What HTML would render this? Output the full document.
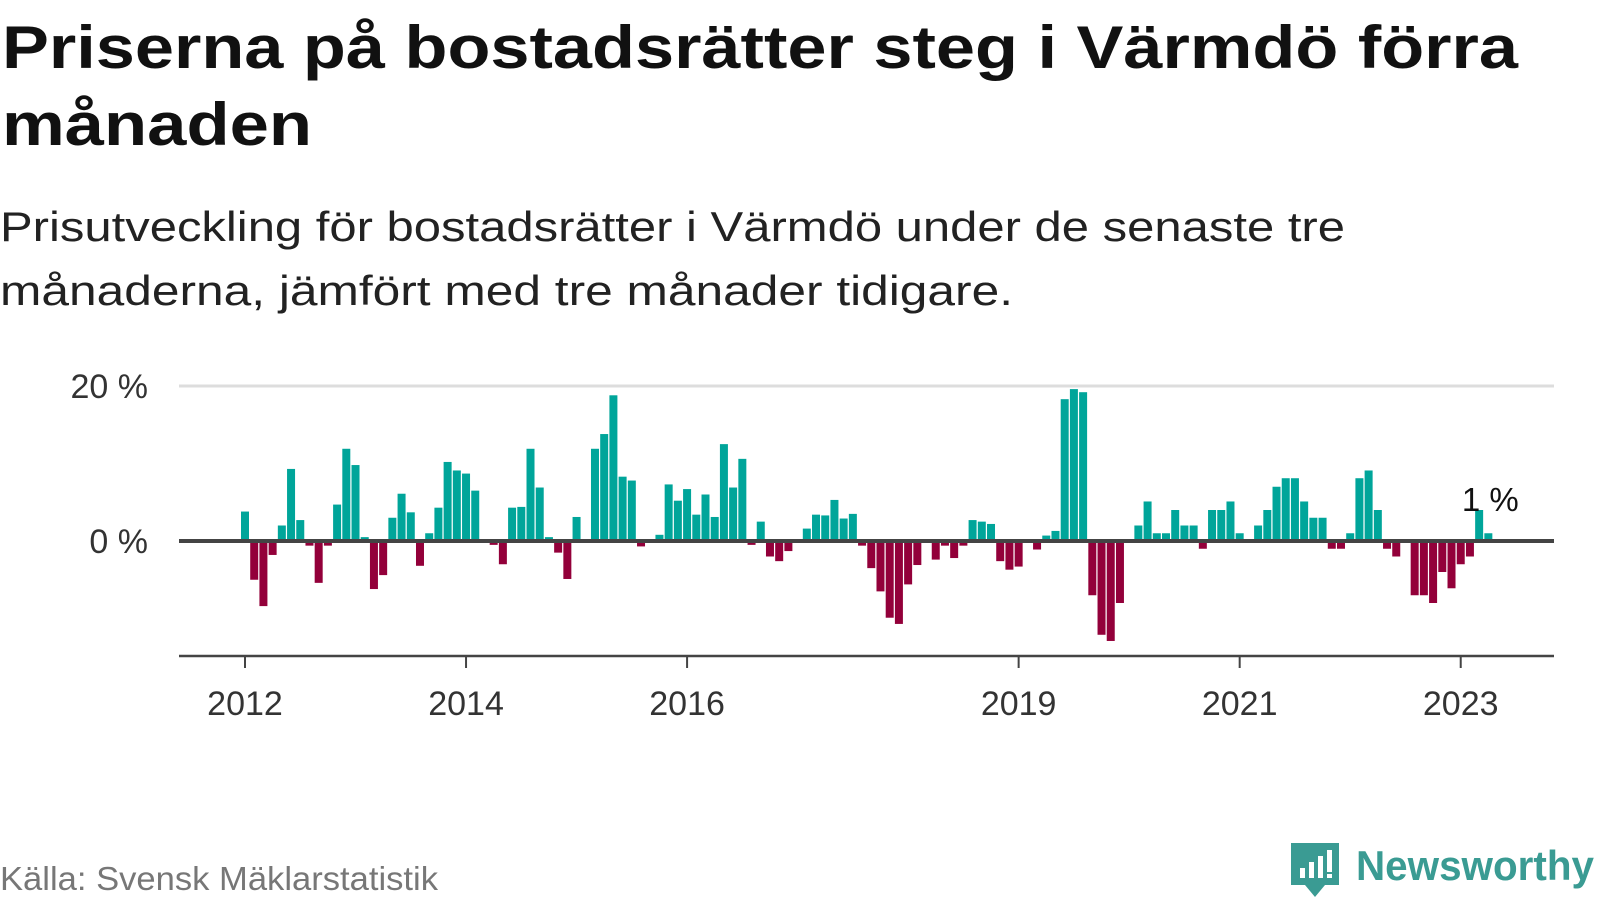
<!DOCTYPE html>
<html><head><meta charset="utf-8"><style>
html,body{margin:0;padding:0;background:#fff;}
svg{display:block;font-family:"Liberation Sans",sans-serif;}
</style></head><body>
<svg id="chart" width="1600" height="900" viewBox="0 0 1600 900">
<text x="2" y="68" font-size="60" font-weight="bold" fill="#111" textLength="1516" lengthAdjust="spacingAndGlyphs">Priserna på bostadsrätter steg i Värmdö förra</text>
<text x="2" y="145" font-size="60" font-weight="bold" fill="#111" textLength="310" lengthAdjust="spacingAndGlyphs">månaden</text>
<text x="0" y="241" font-size="42" fill="#222" textLength="1345" lengthAdjust="spacingAndGlyphs">Prisutveckling för bostadsrätter i Värmdö under de senaste tre</text>
<text x="0" y="305" font-size="42" fill="#222" textLength="1013" lengthAdjust="spacingAndGlyphs">månaderna, jämfört med tre månader tidigare.</text>
<g id="plot"></g>
<text x="0" y="890" font-size="33" fill="#777" textLength="438" lengthAdjust="spacingAndGlyphs">Källa: Svensk Mäklarstatistik</text>
<g>
<path d="M1291 843 h48 v42 h-14 l-10 12 l-10 -12 h-14 z" fill="#3a9b93"/>
<rect x="1300" y="868" width="5" height="10" fill="#fff"/>
<rect x="1309" y="862" width="5" height="16" fill="#fff"/>
<rect x="1318" y="856" width="5" height="22" fill="#fff"/>
<rect x="1327" y="850" width="5" height="22" fill="#fff"/>
<rect x="1327" y="874" width="5" height="4" fill="#fff"/>
<text x="1356" y="880" font-size="42" font-weight="bold" fill="#3a9b93" textLength="238" lengthAdjust="spacingAndGlyphs">Newsworthy</text>
</g>
</svg>
<script>
const values = [3.8,-5.0,-8.4,-1.8,2.0,9.3,2.7,-0.6,-5.4,-0.6,4.7,11.9,9.8,0.5,-6.2,-4.4,3.0,6.1,3.7,-3.2,1.0,4.3,10.2,9.1,8.7,6.5,0,-0.5,-3.0,4.3,4.4,11.9,6.9,0.5,-1.5,-4.9,
3.1,0,11.9,13.8,18.8,8.3,7.8,-0.7,0,0.8,7.3,5.2,6.7,3.4,6.0,3.1,12.5,6.9,10.6,-0.5,2.5,-2.0,-2.6,-1.3,0,1.6,3.4,3.3,5.3,2.9,3.5,-0.6,-3.5,-6.5,-9.9,-10.7,
-5.6,-3.1,0,-2.4,-0.6,-2.2,-0.6,2.7,2.5,2.2,-2.6,-3.7,-3.3,0,-1.1,0.7,1.3,18.3,19.6,19.2,-7.0,-12.1,-12.9,-8.0,0,2.0,5.1,1.0,1.0,4.0,2.0,
2.0,-1.0,4.0,4.0,5.1,1.0,0,2.0,4.0,7.0,8.1,8.1,5.1,3.0,3.0,-1.0,-1.0,1.0,8.1,9.1,4.0,-1.0,-2.0,0,-7.0,-7.0,-8.0,-4.0,-6.1,-3.0,-2.0,4.0,1.0];
const startYear = 2012;
const yTicks = [0, 20];
const yTickLabels = ["0 %", "20 %"];
const xTickYears = [2012, 2014, 2016, 2019, 2021, 2023];
const lastLabel = "1 %";

const NS = "http://www.w3.org/2000/svg";
const plot = document.getElementById("plot");
const x0 = 245, monthW = 9.21;
function xScale(i){ return x0 + i*monthW; }
function yScale(v){ return 541 - v*7.75; }
function mk(tag, attrs){ const e=document.createElementNS(NS,tag); for(const k in attrs) e.setAttribute(k,attrs[k]); plot.appendChild(e); return e; }

yTicks.forEach((t,i)=>{
  if(t!==0){
    const g = mk("line",{x1:179,x2:1554,y1:yScale(t),y2:yScale(t),stroke:"#ddd","stroke-width":3});
    
    
  }
  const tx = mk("text",{x:148,y:yScale(t)+12,"font-size":34,fill:"#333","text-anchor":"end"});
  tx.textContent = yTickLabels[i];
  
  
});

values.forEach((v,i)=>{
  if(v===0) return;
  const y = v>0 ? yScale(v) : yScale(0);
  const h = Math.abs(yScale(v)-yScale(0));
  const r = mk("rect",{x:xScale(i)-4,y:y,width:8,height:h,fill:v>0?"#00a59a":"#93003a"});
  
  
});

const zl = mk("line",{x1:179,x2:1554,y1:yScale(0),y2:yScale(0),stroke:"#444","stroke-width":4});



const ax = mk("line",{x1:179,x2:1554,y1:656,y2:656,stroke:"#444","stroke-width":2.5});



xTickYears.forEach(yr=>{
  const xi = xScale((yr-startYear)*12);
  const tk = mk("line",{x1:xi,x2:xi,y1:656,y2:668,stroke:"#444","stroke-width":2});
  
  
  const t = mk("text",{x:xi,y:715,"font-size":34,fill:"#333","text-anchor":"middle"});
  t.textContent = String(yr);
  
  
});

const li = values.length-1;
const lab = mk("text",{x:xScale(li)+2,y:yScale(Math.max(values[li],values[li-1]))+1,"font-size":33,fill:"#111","text-anchor":"middle"});
lab.textContent = lastLabel;


</script>
</body></html>
